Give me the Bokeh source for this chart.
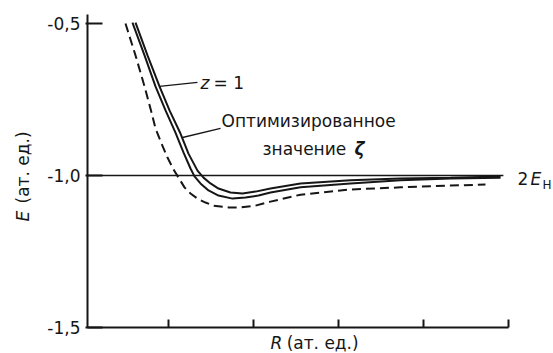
import math
from bokeh.plotting import figure
from bokeh.models import Range1d, FixedTicker, Label
from bokeh.embed import file_html
from bokeh.resources import INLINE

# ---- data (R in a.u., E in a.u.) ----
r_z1 = [0.612, 0.753, 0.894, 1.012, 1.141, 1.235, 1.341, 1.412, 1.494, 1.588, 1.729, 1.871, 2.024, 2.200, 2.553, 3.141, 3.729, 4.318, 4.906]
e_z1 = [-0.497, -0.605, -0.707, -0.786, -0.862, -0.928, -0.984, -1.007, -1.026, -1.043, -1.056, -1.059, -1.053, -1.043, -1.026, -1.016, -1.010, -1.007, -1.003]

r_opt = [0.576, 0.718, 0.847, 0.965, 1.082, 1.176, 1.259, 1.306, 1.376, 1.471, 1.588, 1.753, 1.906, 2.059, 2.200, 2.553, 3.141, 3.729, 4.318, 4.906]
e_opt = [-0.497, -0.605, -0.707, -0.786, -0.859, -0.924, -0.977, -1.003, -1.026, -1.049, -1.066, -1.076, -1.072, -1.066, -1.056, -1.039, -1.026, -1.016, -1.010, -1.007]

r_exact = [0.494, 0.612, 0.718, 0.788, 0.847, 0.918, 0.988, 1.059, 1.118, 1.188, 1.259, 1.341, 1.435, 1.529, 1.706, 1.847, 2.024, 2.200, 2.553, 3.141, 3.729, 4.318, 4.729]
e_exact = [-0.500, -0.605, -0.707, -0.780, -0.845, -0.895, -0.941, -0.980, -1.007, -1.039, -1.059, -1.076, -1.089, -1.099, -1.105, -1.105, -1.099, -1.086, -1.063, -1.046, -1.039, -1.033, -1.030]

limit_r = [0.047, 4.94]
limit_e = [-1.0, -1.0]

y_ticks = [-1.5, -1.0, -0.5]
y_tick_labels = ["-1,5", "-1,0", "-0,5"]
x_ticks = [1, 2, 3, 4, 5]

R_MIN, R_MAX = 0.047, 5.0
E_MIN, E_MAX = -1.5, -0.4704

INK = "#161616"
FONT = "DejaVu Sans"

p = figure(width=553, height=353,
           x_range=Range1d(-0.97647, 5.52941), y_range=Range1d(-1.58553, -0.42434),
           output_backend="svg", toolbar_location=None, min_border=0)
p.outline_line_color = None
p.grid.visible = False
p.background_fill_color = "white"

# axes (placed at the data origin of the drawing, taking no panel space)
ya = p.yaxis[0]
ya.fixed_location = R_MIN
ya.bounds = (E_MIN, E_MAX)
ya.ticker = FixedTicker(ticks=y_ticks)
ya.major_label_overrides = {t: s for t, s in zip(y_ticks, y_tick_labels)}
ya.axis_line_width = 2
ya.axis_line_color = INK
ya.major_tick_in = 15
ya.major_tick_out = 2
ya.major_tick_line_width = 2
ya.major_tick_line_color = INK
ya.minor_tick_line_color = None
ya.major_label_standoff = 5
ya.major_label_text_font = FONT
ya.major_label_text_font_size = "17px"
ya.major_label_text_color = INK

xa = p.xaxis[0]
xa.fixed_location = E_MIN
xa.bounds = (R_MIN, R_MAX)
xa.ticker = FixedTicker(ticks=x_ticks)
xa.major_label_overrides = {t: "" for t in x_ticks}
xa.axis_line_width = 2
xa.axis_line_color = INK
xa.major_tick_in = 8
xa.major_tick_out = 0
xa.major_tick_line_width = 2
xa.major_tick_line_color = INK
xa.minor_tick_line_color = None

# 2E_H line
p.line(limit_r, limit_e, line_color=INK, line_width=1.5)

# curves
p.line(r_z1, e_z1, line_color=INK, line_width=2)
p.line(r_opt, e_opt, line_color=INK, line_width=2)
p.line(r_exact, e_exact, line_color=INK, line_width=2, line_dash="9 5")

# leaders
p.line([0.894, 1.341], [-0.707, -0.694], line_color=INK, line_width=1.3)
p.line([1.165, 1.612], [-0.875, -0.845], line_color=INK, line_width=1.3)

def lab(x, y, text, size="17px", style="normal", align="left", baseline="middle", angle=0.0):
    p.add_layout(Label(x=x, y=y, text=text, text_font=FONT, text_font_size=size,
                       text_font_style=style, text_align=align, text_baseline=baseline,
                       text_color=INK, angle=angle))

lab(1.376, -0.697, "z", style="italic")
lab(1.53, -0.697, "= 1")
lab(1.624, -0.822, "Оптимизированное")
lab(2.106, -0.912, "значение")
lab(3.306, -0.912, "ζ", style="bold italic", align="right")
lab(5.106, -1.010, "2")
lab(5.259, -1.010, "E", style="italic")
lab(5.40, -1.030, "H", size="12px")

# axis titles
lab(-0.7176, -1.1513, "E", style="italic", angle=math.pi / 2)
lab(-0.7176, -1.0921, "(ат. ед.)", angle=math.pi / 2)
lab(2.2, -1.5526, "R", style="italic")
lab(2.39, -1.5526, "(ат. ед.)")

open("out.html", "w").write(file_html(p, INLINE))
